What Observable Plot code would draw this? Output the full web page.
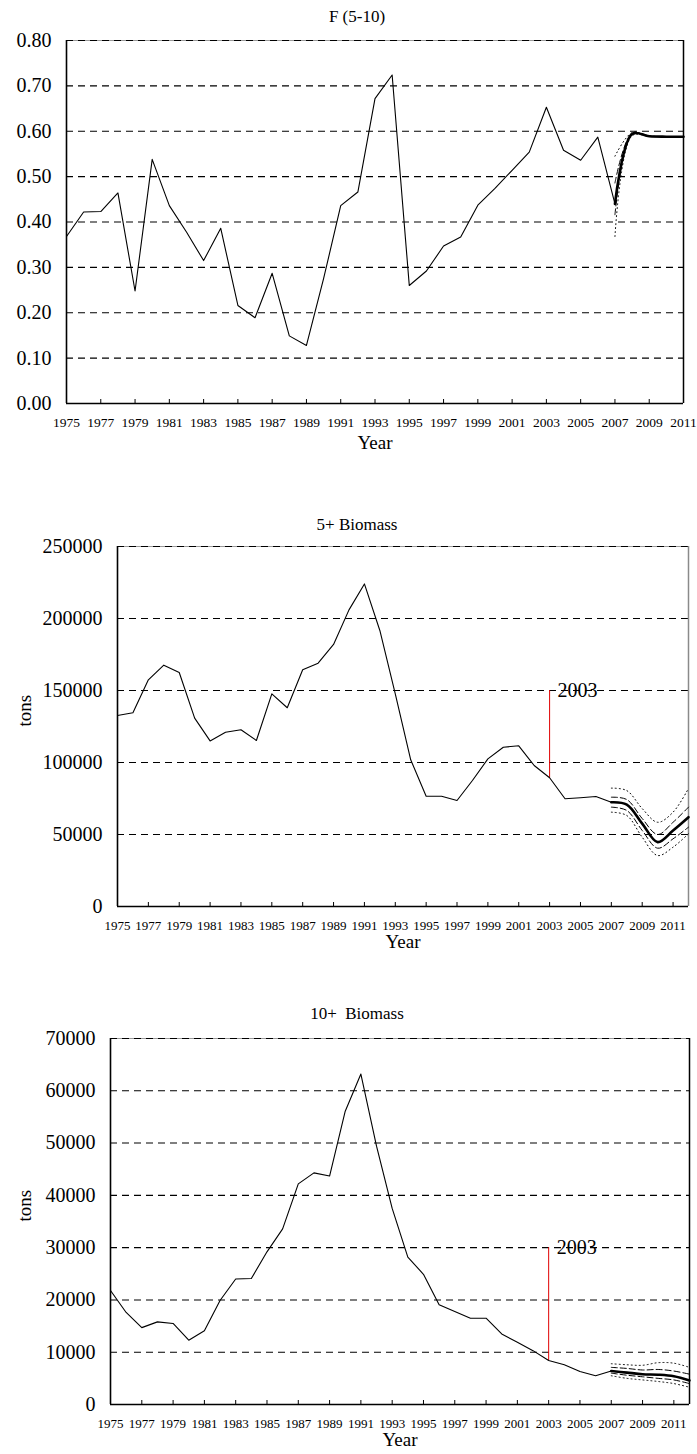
<!DOCTYPE html>
<html><head><meta charset="utf-8">
<script src="https://cdn.jsdelivr.net/npm/d3@7"></script>
<script src="https://cdn.jsdelivr.net/npm/@observablehq/plot@0.6"></script>
<style>
body{margin:0;background:#fff;font-family:"Liberation Serif","Times New Roman",serif;}
#page{position:relative;width:697px;height:1454px;overflow:hidden;background:#fff;}
.chart{position:absolute;left:0;}
.title{position:absolute;width:240px;text-align:center;font-family:"Liberation Serif","Times New Roman",serif;font-size:17px;line-height:20px;color:#000;white-space:pre;}
</style></head><body><div id="page"></div>
<script>
// ---------- data ----------
const histYears = [1975,1976,1977,1978,1979,1980,1981,1982,1983,1984,1985,1986,1987,1988,1989,1990,1991,1992,1993,1994,1995,1996,1997,1998,1999,2000,2001,2002,2003,2004,2005,2006,2007];
const projYears = [2007,2008,2009,2010,2011,2012];
const fProjYears = [2007,2008,2009,2010,2011];
const xTickYears = [1975,1977,1979,1981,1983,1985,1987,1989,1991,1993,1995,1997,1999,2001,2003,2005,2007,2009,2011];

// F (5-10)
const fHist = [0.368,0.422,0.423,0.464,0.248,0.538,0.436,0.378,0.315,0.386,0.216,0.189,0.287,0.149,0.128,0.275,0.436,0.466,0.672,0.724,0.260,0.292,0.347,0.367,0.437,0.474,0.514,0.554,0.653,0.558,0.536,0.587,0.440];
const fProj = [0.440,0.594,0.589,0.588,0.588];
const fUpDot = [0.545,0.597,0.590,0.588,0.588];
const fUpDash = [0.486,0.596,0.589,0.588,0.588];
const fLoDash = [0.416,0.592,0.589,0.588,0.588];
const fLoDot = [0.368,0.590,0.589,0.588,0.588];
const fTicks = [0,0.1,0.2,0.3,0.4,0.5,0.6,0.7,0.8];

// 5+ Biomass
const b5Hist = [132600,134500,157400,167600,162500,130800,115000,121000,122700,115300,147700,138000,164400,169000,182000,206000,224000,191700,147700,101900,76600,76600,73600,87500,102500,110600,111600,97900,89400,74800,75500,76400,72400];
const b5Proj = [72400,70800,57600,44700,52800,62000];
const b5UpDot = [82200,80500,68000,58500,65500,82000];
const b5UpDash = [75900,74300,61100,50000,58500,69000];
const b5LoDash = [69000,66700,52800,40500,47000,55100];
const b5LoDot = [65500,63200,48100,35400,41200,50500];
const b5Ticks = [0,50000,100000,150000,200000,250000];
const b5Marker = [{year: 2003, low: 89400, high: 150000, label: "2003"}];

// 10+ Biomass
const b10Hist = [21800,17600,14700,15800,15500,12300,14100,19900,24000,24100,29200,33600,42200,44300,43700,56100,63200,49400,37500,28200,24900,19100,17800,16500,16500,13500,11900,10300,8400,7600,6300,5500,6400];
const b10Proj = [6400,6100,5800,5700,5400,4600];
const b10UpDot = [7800,7600,7500,8000,7900,7100];
const b10UpDash = [7100,6900,6600,6700,6400,5800];
const b10LoDash = [6000,5600,5300,5000,4700,4000];
const b10LoDot = [5500,5000,4700,4400,4000,3300];
const b10Ticks = [0,10000,20000,30000,40000,50000,60000,70000];
const b10Marker = [{year: 2003, low: 8400, high: 30000, label: "2003"}];

// ---------- helpers ----------
const toRows = (xs, ys) => xs.map((x, i) => ({year: x, value: ys[i]}));
const page = document.getElementById("page");
const FONT = '"Liberation Serif", "Times New Roman", serif';

function makeChart(cfg) {
  const yMax = cfg.ticks[cfg.ticks.length - 1];
  const marks = [
    Plot.ruleY([yMax], {stroke: "#9a9a9a", strokeWidth: 1.2}),
    Plot.ruleY(cfg.ticks.filter(d => d > 0), {stroke: "#000", strokeWidth: 1.1, strokeDasharray: "7,5"}),
    Plot.ruleX([cfg.xDomain[1]], {stroke: cfg.rightColor, strokeWidth: 1.5}),
  ];
  if (cfg.marker) {
    marks.push(Plot.ruleX(cfg.marker, {x: "year", y1: "low", y2: "high", stroke: "#e00000", strokeWidth: 1}));
    marks.push(Plot.text(cfg.marker, {x: "year", y: "high", text: "label", dx: 8, textAnchor: "start", fontSize: 20, fill: "#000"}));
  }
  const ciYears = cfg.projYears;
  marks.push(
    Plot.lineY(toRows(histYears, cfg.hist), {x: "year", y: "value", stroke: "#000", strokeWidth: 1.1}),
    Plot.lineY(toRows(ciYears, cfg.upDot), {x: "year", y: "value", stroke: "#000", strokeWidth: 1, strokeDasharray: "1,3", curve: "catmull-rom"}),
    Plot.lineY(toRows(ciYears, cfg.loDot), {x: "year", y: "value", stroke: "#000", strokeWidth: 1, strokeDasharray: "1,3", curve: "catmull-rom"}),
    Plot.lineY(toRows(ciYears, cfg.upDash), {x: "year", y: "value", stroke: "#000", strokeWidth: 1, strokeDasharray: "6,3", curve: "catmull-rom"}),
    Plot.lineY(toRows(ciYears, cfg.loDash), {x: "year", y: "value", stroke: "#000", strokeWidth: 1, strokeDasharray: "6,3", curve: "catmull-rom"}),
    Plot.lineY(toRows(ciYears, cfg.proj), {x: "year", y: "value", stroke: "#000", strokeWidth: 2.6, curve: "catmull-rom"}),
    Plot.ruleX([cfg.xDomain[0]], {stroke: "#000", strokeWidth: 1.6}),
    Plot.ruleY([0], {stroke: "#000", strokeWidth: 1.6}),
    Plot.axisY({ticks: cfg.ticks, tickFormat: cfg.yFormat, tickSize: 0, tickPadding: 15, fontSize: 20, label: null}),
    Plot.axisX({ticks: xTickYears, tickFormat: "d", tickSize: -4, tickPadding: 18, fontSize: cfg.xFont, label: null}),
    Plot.text(["Year"], {frameAnchor: "bottom", dy: cfg.yearDy, fontSize: 19, fill: "#000"})
  );
  if (cfg.ylabel) {
    marks.push(Plot.text([cfg.ylabel], {frameAnchor: "left", dx: cfg.ylabelDx, rotate: -90, fontSize: 19, fill: "#000"}));
  }
  const svg = Plot.plot({
    width: 697,
    height: cfg.height,
    marginTop: cfg.mt, marginBottom: cfg.mb, marginLeft: cfg.ml, marginRight: cfg.mr,
    style: {fontFamily: FONT, fontSize: "13px", color: "#000", background: "transparent", overflow: "visible"},
    x: {domain: cfg.xDomain},
    y: {domain: [0, yMax]},
    marks
  });
  const wrap = document.createElement("div");
  wrap.className = "chart";
  wrap.style.top = cfg.top + "px";
  wrap.appendChild(svg);
  page.appendChild(wrap);
  const t = document.createElement("div");
  t.className = "title";
  t.textContent = cfg.title;
  t.style.left = (357 - 120) + "px";
  t.style.top = (cfg.titleY - 10) + "px";
  page.appendChild(t);
}

makeChart({
  title: "F (5-10)", titleY: 17,
  top: 0, height: 470, mt: 40, mb: 67, ml: 66, mr: 14,
  xDomain: [1975, 2011], ticks: fTicks, yFormat: ".2f", xFont: 13.5, yearDy: 45,
  hist: fHist, projYears: fProjYears, proj: fProj,
  upDot: fUpDot, upDash: fUpDash, loDash: fLoDash, loDot: fLoDot,
  rightColor: "#000"
});

makeChart({
  title: "5+ Biomass", titleY: 525,
  top: 500, height: 450, mt: 46, mb: 44, ml: 117, mr: 9,
  xDomain: [1975, 2012], ticks: b5Ticks, yFormat: "d", xFont: 13, yearDy: 41,
  hist: b5Hist, projYears: projYears, proj: b5Proj,
  upDot: b5UpDot, upDash: b5UpDash, loDash: b5LoDash, loDot: b5LoDot,
  marker: b5Marker, ylabel: "tons", ylabelDx: -93,
  rightColor: "#8a8a8a"
});

makeChart({
  title: "10+  Biomass", titleY: 1014,
  top: 990, height: 464, mt: 48, mb: 50, ml: 110, mr: 8,
  xDomain: [1975, 2012], ticks: b10Ticks, yFormat: "d", xFont: 13, yearDy: 41,
  hist: b10Hist, projYears: projYears, proj: b10Proj,
  upDot: b10UpDot, upDash: b10UpDash, loDash: b10LoDash, loDot: b10LoDot,
  marker: b10Marker, ylabel: "tons", ylabelDx: -86,
  rightColor: "#000"
});
</script></body></html>
